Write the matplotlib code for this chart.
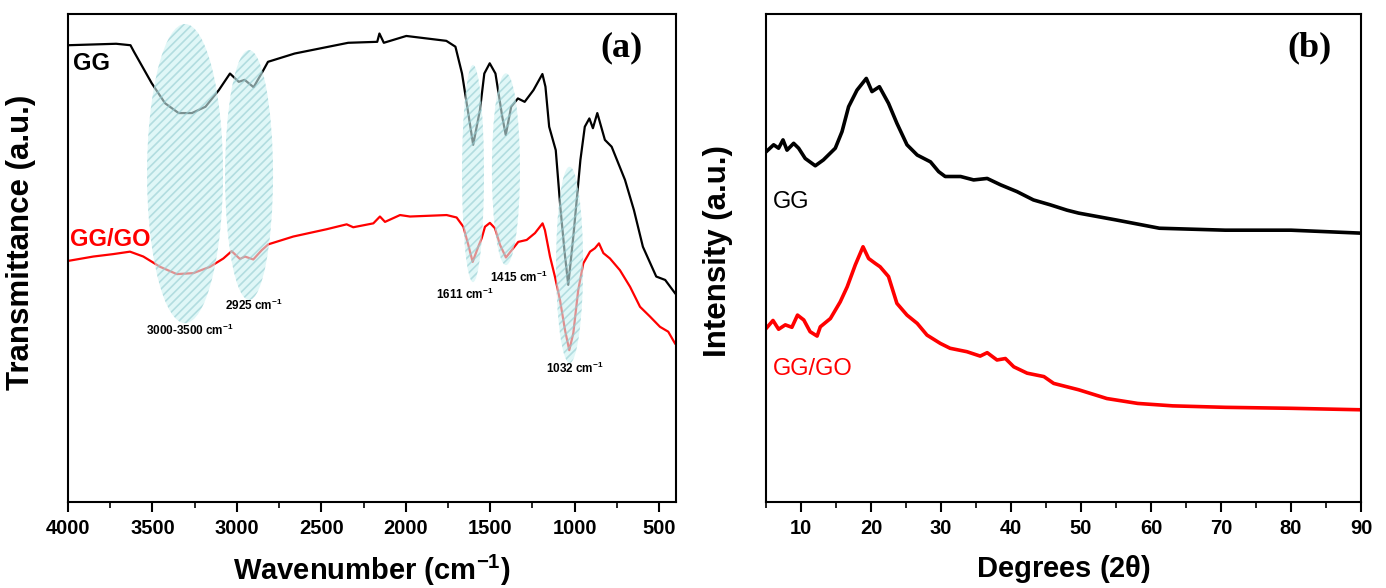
import matplotlib
matplotlib.use("Agg")
import matplotlib.pyplot as plt
from matplotlib.patches import Ellipse

# ---- FTIR data (panel a), transmittance in a.u. ----
gg_wn = [4000, 3715, 3630, 3610, 3504, 3425, 3345, 3266, 3186, 3107, 3041, 2989, 2954, 2901,
         2843, 2816, 2658, 2341, 2169, 2156, 2130, 1997, 1760, 1706, 1667, 1627, 1601,
         1561, 1535, 1503, 1469, 1429, 1408, 1376, 1336, 1296, 1244, 1191, 1173, 1151,
         1112, 1085, 1059, 1038, 1006, 966, 940, 913, 892, 866, 821, 781, 702, 649, 596,
         517, 464, 406]
gg_t = [93.6, 93.9, 93.6, 92.3, 85.8, 81.7, 79.7, 79.7, 81.0, 84.4, 87.8, 86.1, 86.5, 85.0,
        88.5, 90.2, 91.9, 94.1, 94.3, 96.0, 94.1, 95.5, 94.5, 93.3, 87.8, 79.0, 73.2,
        80.3, 87.8, 89.9, 87.8, 79.0, 75.2, 81.0, 82.7, 82.0, 84.4, 87.7, 85.1, 76.9,
        72.1, 60.5, 51.0, 44.5, 55.1, 70.1, 76.9, 78.6, 76.6, 79.7, 74.2, 72.8, 66.0,
        59.8, 52.3, 46.2, 45.5, 42.8]

ggo_wn = [4000, 3850, 3732, 3633, 3554, 3455, 3356, 3258, 3159, 3080, 3031, 2982, 2952,
          2903, 2853, 2814, 2666, 2468, 2350, 2311, 2192, 2153, 2123, 2034, 1975, 1758,
          1699, 1659, 1630, 1604, 1571, 1551, 1531, 1502, 1472, 1442, 1407, 1373, 1334,
          1284, 1235, 1190, 1176, 1146, 1117, 1087, 1057, 1032, 1008, 979, 949, 909, 880,
          856, 830, 791, 732, 672, 613, 554, 495, 446, 406]
ggo_t = [49.4, 50.3, 50.8, 51.3, 50.3, 48.2, 46.7, 46.9, 48.2, 49.9, 51.4, 49.8, 50.3,
         49.7, 51.6, 52.8, 54.4, 55.9, 56.9, 56.3, 57.1, 58.5, 57.4, 58.8, 58.5, 58.8,
         58.3, 56.4, 52.7, 49.2, 52.3, 54.0, 56.4, 57.2, 56.1, 52.7, 50.1, 51.6, 53.3,
         53.7, 55.1, 57.1, 55.7, 50.3, 46.2, 41.4, 35.2, 31.1, 34.6, 43.4, 48.9, 51.3, 52.0,
         53.0, 51.0, 49.9, 47.5, 44.1, 40.0, 38.0, 35.9, 34.9, 32.5]

# highlighted bands: centre wavenumber, centre T, width, height
band_x = [3307, 2928, 1602, 1407, 1030]
band_y = [67.3, 67.0, 67.3, 68.2, 48.6]
band_w = [450, 284, 130, 166, 160]
band_h = [61.3, 51.2, 44.5, 39.3, 40.2]
band_labels = ["3000-3500 cm$^{-1}$", "2925 cm$^{-1}$", "1611 cm$^{-1}$",
               "1415 cm$^{-1}$", "1032 cm$^{-1}$"]
band_lx = [3278, 2900, 1649, 1333, 1000]
band_ly = [35.2, 40.2, 42.6, 46.1, 27.3]

# ---- XRD data (panel b), intensity in a.u. ----
gg_2t = [5.04, 6.09, 6.8, 7.43, 8.0, 8.95, 9.66, 10.6, 12.04, 13.2, 14.9, 15.86, 16.8,
         18.0, 19.33, 20.14, 21.2, 22.5, 23.7, 25.14, 26.6, 28.5, 29.66, 30.6, 32.8,
         34.66, 36.6, 38.5, 40.86, 43.2, 45.6, 48.0, 49.66, 55.0, 61.2, 70.6, 80.0, 89.9]
gg_i = [71.8, 73.2, 72.5, 74.2, 72.1, 73.5, 72.5, 70.4, 68.9, 70.1, 72.5, 75.9, 81.0,
        84.4, 86.8, 84.1, 85.1, 81.7, 77.6, 73.2, 71.1, 69.7, 67.7, 66.7, 66.7,
        66.0, 66.3, 65.0, 63.6, 61.9, 60.9, 59.8, 59.2, 57.8, 56.1, 55.7, 55.7, 55.1]

ggo_2t = [5.04, 6.0, 6.8, 7.76, 8.7, 9.5, 10.4, 11.3, 12.3, 12.76, 14.2, 15.6, 16.6,
          17.76, 18.86, 19.66, 20.6, 21.3, 22.5, 23.7, 25.14, 26.6, 28.0, 29.9, 31.3,
          33.7, 35.6, 36.6, 38.0, 39.2, 40.4, 42.3, 44.7, 46.1, 49.66, 53.7, 58.1, 63.1,
          70.6, 80.0, 89.9]
ggo_i = [35.6, 37.2, 35.4, 36.3, 35.8, 38.3, 37.3, 34.9, 34.0, 35.9, 37.6, 41.0, 44.1,
         48.6, 52.3, 49.9, 48.9, 48.2, 46.2, 40.7, 38.3, 36.6, 34.2, 32.5, 31.5,
         30.8, 29.9, 30.6, 29.1, 29.4, 27.7, 26.4, 25.7, 24.3, 23.0, 21.2, 20.2, 19.7,
         19.4, 19.2, 18.9]

plt.rcParams['font.family'] = ['Liberation Sans', 'DejaVu Sans']
plt.rcParams['mathtext.default'] = 'regular'
plt.rcParams['hatch.linewidth'] = 1.2

fig = plt.figure(figsize=(13.86, 5.88), dpi=100)
ax1 = fig.add_axes([68 / 1386, 86 / 588, 608 / 1386, 488 / 588])
ax2 = fig.add_axes([766 / 1386, 86 / 588, 595 / 1386, 488 / 588])


def style(ax):
    for s in ax.spines.values():
        s.set_linewidth(1.5)
    ax.tick_params(axis='x', which='major', direction='out', length=7, width=1.5,
                   labelsize=14.5, pad=5)
    ax.tick_params(axis='x', which='minor', direction='out', length=4, width=1.2)
    ax.set_yticks([])
    for lab in ax.get_xticklabels():
        lab.set_fontweight('bold')


# panel a
ax1.plot(gg_wn, gg_t, color='black', lw=1.6, zorder=2)
ax1.plot(ggo_wn, ggo_t, color='red', lw=1.6, zorder=2)
for cx, cy, w, h in zip(band_x, band_y, band_w, band_h):
    ax1.add_patch(Ellipse((cx, cy), w, h, facecolor=(0.80, 0.95, 0.95, 0.6),
                          edgecolor=(0.58, 0.80, 0.82, 0.6), hatch='////',
                          linewidth=0, zorder=3))
for txt, lx, ly in zip(band_labels, band_lx, band_ly):
    ax1.text(lx, ly, txt, ha='center', va='center', fontsize=8.5,
             fontweight='bold', family=['Liberation Sans Narrow', 'Liberation Sans'],
             zorder=4)
ax1.set_xlim(4000, 400)
ax1.set_ylim(0, 100)
ax1.set_xticks([4000, 3500, 3000, 2500, 2000, 1500, 1000, 500])
ax1.set_xticks(range(3750, 400, -500), minor=True)
style(ax1)
ax1.set_xlabel('Wavenumber (cm$^{-1}$)', fontsize=21, fontweight='bold')
ax1.xaxis.set_label_coords(0.5, -0.105)
ax1.set_ylabel('Transmittance (a.u.)', fontsize=22.5, fontweight='bold')
ax1.yaxis.set_label_coords(-0.053, 0.533)
ax1.text(3970, 89.8, 'GG', color='black', fontsize=17, fontweight='bold', va='center')
ax1.text(3988, 53.7, 'GG/GO', color='red', fontsize=17, fontweight='bold', va='center')
ax1.text(0.91, 0.93, '(a)', transform=ax1.transAxes, ha='center', va='center',
         fontsize=26, fontweight='bold', family='Liberation Serif')

# panel b
ax2.plot(gg_2t, gg_i, color='black', lw=2.6)
ax2.plot(ggo_2t, ggo_i, color='red', lw=2.6)
ax2.set_xlim(5, 90)
ax2.set_ylim(0, 100)
ax2.set_xticks(range(10, 91, 10))
ax2.set_xticks(range(5, 91, 10), minor=True)
style(ax2)
ax2.set_xlabel(r'Degrees (2$\theta$)', fontsize=21, fontweight='bold')
ax2.xaxis.set_label_coords(0.5, -0.105)
ax2.set_ylabel('Intensity (a.u.)', fontsize=22.5, fontweight='bold')
ax2.yaxis.set_label_coords(-0.055, 0.514)
ax2.text(6.0, 61.5, 'GG', color='black', fontsize=17, va='center')
ax2.text(6.0, 27.2, 'GG/GO', color='red', fontsize=17, va='center')
ax2.text(0.913, 0.93, '(b)', transform=ax2.transAxes, ha='center', va='center',
         fontsize=26, fontweight='bold', family='Liberation Serif')

fig.savefig('out.png', dpi=100)
